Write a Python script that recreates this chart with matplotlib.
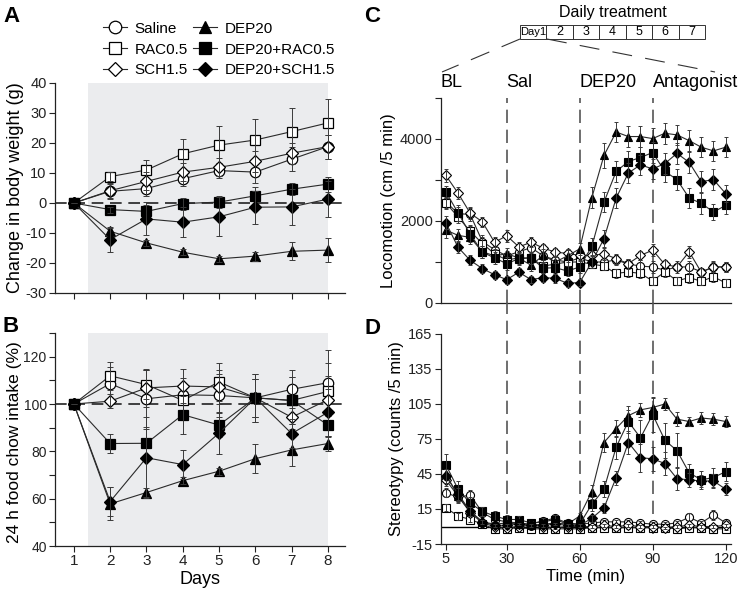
import numpy as np
import matplotlib
matplotlib.use("Agg")
import matplotlib.pyplot as plt
from matplotlib.lines import Line2D
from matplotlib.patches import Rectangle

plt.rcParams['font.family'] = ['Liberation Sans', 'DejaVu Sans']
plt.rcParams['axes.unicode_minus'] = False

# ---------------- data ----------------
groups = ["Saline", "RAC0.5", "SCH1.5", "DEP20", "DEP20+RAC0.5", "DEP20+SCH1.5"]
markers = ["o", "s", "D", "^", "s", "D"]
filled = [False, False, False, True, True, True]

days = [1, 2, 3, 4, 5, 6, 7, 8]

bw_saline = [0, 3.9, 4.8, 8.1, 10.8, 10.3, 14.6, 18.8]
bw_rac = [0, 8.8, 11.0, 16.4, 19.3, 21.0, 23.8, 26.7]
bw_sch = [0, 4.1, 7.2, 10.3, 11.9, 13.9, 16.6, 18.8]
bw_dep = [0, -9.4, -13.3, -16.4, -18.6, -17.7, -16.1, -15.7]
bw_deprac = [0, -2.2, -2.8, -0.2, 0.3, 2.4, 4.6, 6.3]
bw_depsch = [0, -12.2, -5.3, -6.4, -4.6, -1.4, -1.3, 1.3]

bw_saline_err = [0, 2.5, 2.5, 2.5, 2.5, 3.5, 4, 4]
bw_rac_err = [0, 1.5, 3.5, 5, 6.5, 7, 8, 8]
bw_sch_err = [0, 2.5, 3, 3, 3, 3.5, 3.5, 4]
bw_dep_err = [0, 1.5, 1, 1, 1, 1.5, 3, 4]
bw_deprac_err = [0, 1, 2, 2, 2, 3, 2, 2.5]
bw_depsch_err = [0, 4, 5.5, 5, 6.5, 5.5, 6, 6]

fi_saline = [100, 108.6, 102.2, 103.9, 103.6, 102.6, 106.2, 109.0]
fi_rac = [100, 111.9, 108.2, 101.5, 109.3, 102.6, 101.5, 105.3]
fi_sch = [100, 101.2, 106.8, 107.6, 107.2, 102.6, 94.4, 101.8]
fi_dep = [100, 57.8, 62.6, 67.6, 71.6, 76.9, 80.6, 83.3]
fi_deprac = [100, 83.3, 83.4, 95.5, 91.1, 102.6, 101.5, 91.1]
fi_depsch = [100, 58.8, 77.3, 74.4, 87.7, 102.6, 87.5, 96.5]

fi_saline_err = [0, 7, 12, 7, 9, 8, 8, 14]
fi_rac_err = [0, 6, 6, 5, 8, 8, 10, 12]
fi_sch_err = [0, 3, 8, 7, 7, 8, 5, 10]
fi_dep_err = [0, 7, 2, 1.5, 1.5, 6, 7, 3]
fi_deprac_err = [0, 4, 6, 8, 5, 10, 10, 5]
fi_depsch_err = [0, 6, 17, 6, 9, 10, 6, 10]

time_min = [5, 10, 15, 20, 25, 30, 35, 40, 45, 50, 55, 60,
            65, 70, 75, 80, 85, 90, 95, 100, 105, 110, 115, 120]

loc_saline = [2470, 2180, 2160, 1500, 1300, 1150, 1250, 1350, 1150, 1050, 1000, 1100,
              1000, 1000, 1050, 950, 900, 880, 800, 880, 880, 760, 880, 880]
loc_rac = [2440, 2100, 1750, 1450, 1200, 1050, 1100, 1100, 900, 950, 1000, 1000,
           950, 900, 720, 760, 720, 540, 760, 540, 620, 530, 640, 490]
loc_sch = [3110, 2680, 2190, 1980, 1480, 1640, 1370, 1480, 1340, 1240, 1210, 1160,
           1160, 1200, 1080, 960, 1160, 1290, 940, 880, 1250, 750, 880, 880]
loc_dep = [1780, 1650, 1600, 1250, 1150, 1200, 1100, 920, 1160, 1000, 1150, 1320,
           2570, 3600, 4170, 4060, 4060, 4010, 4140, 4100, 3960, 3800, 3710, 3800]
loc_deprac = [2710, 2200, 1680, 1240, 1100, 960, 1080, 1100, 850, 860, 780, 880,
              1380, 2460, 3210, 3450, 3550, 3670, 3210, 3010, 2560, 2430, 2220, 2380]
loc_depsch = [1960, 1360, 1040, 840, 690, 570, 750, 570, 620, 600, 480, 500,
              1000, 1570, 2560, 3170, 3370, 3270, 3400, 3650, 3430, 2960, 3010, 2670]

loc_saline_err = [150, 150, 150, 150, 120, 120, 120, 120, 100, 100, 100, 100,
                  120, 120, 120, 120, 150, 150, 120, 150, 150, 100, 150, 120]
loc_rac_err = [150, 150, 150, 150, 120, 120, 100, 100, 100, 100, 100, 120,
               100, 100, 100, 120, 120, 100, 120, 100, 120, 100, 120, 100]
loc_sch_err = [150, 150, 150, 120, 120, 150, 120, 120, 100, 100, 100, 120,
               120, 150, 120, 120, 120, 150, 120, 100, 150, 100, 120, 120]
loc_dep_err = [200, 150, 150, 150, 150, 150, 150, 150, 150, 120, 150, 150,
               250, 300, 250, 250, 250, 250, 250, 250, 250, 250, 250, 250]
loc_deprac_err = [150, 200, 200, 150, 150, 150, 150, 150, 120, 120, 120, 150,
                  200, 250, 250, 250, 250, 250, 250, 250, 250, 250, 200, 200]
loc_depsch_err = [150, 150, 120, 100, 100, 100, 100, 80, 100, 100, 80, 80,
                  150, 200, 250, 250, 250, 250, 250, 250, 250, 250, 250, 200]

st_saline = [29, 25, 27, 12, 6, 4, 3, 2, 5, 7, 3, 2,
             3, 4, 4, 4, 3, 2, 2, 3, 8, 3, 10, 3]
st_rac = [16, 9, 6, 2, -2, -2, -1, -2, -2, -2, -2, -2,
          -1, -1, -1, -1, -1, -1, -1, -2, -1, -1, -2, -2]
st_sch = [40, 26, 12, 3, 0, -1, 0, 1, 0, -1, 0, 0,
          0, 1, 0, 1, 0, 0, -1, 0, 1, 0, 0, 1]
st_dep = [45, 26, 13, 4, 2, 3, 2, 1, 2, 3, 2, 9,
          30, 72, 84, 95, 100, 102, 105, 92, 90, 93, 92, 90]
st_deprac = [53, 32, 20, 13, 9, 6, 6, 3, 4, 6, 2, 2,
             19, 32, 68, 90, 76, 96, 74, 65, 46, 40, 42, 47]
st_depsch = [43, 28, 13, 4, 1, 1, 2, 1, 1, 2, 1, 1,
             7, 16, 42, 72, 59, 58, 54, 41, 40, 39, 39, 32]

st_saline_err = [4, 4, 4, 3, 2, 2, 2, 2, 2, 3, 2, 2,
                 2, 2, 2, 2, 2, 2, 2, 2, 4, 2, 4, 2]
st_rac_err = [3, 3, 2, 2, 1, 1, 1, 1, 1, 1, 1, 1,
              1, 1, 1, 1, 1, 1, 1, 1, 1, 1, 1, 1]
st_sch_err = [5, 4, 3, 2, 1, 1, 1, 1, 1, 1, 1, 1,
              1, 1, 1, 1, 1, 1, 1, 1, 1, 1, 1, 1]
st_dep_err = [5, 6, 4, 2, 2, 2, 2, 2, 2, 2, 2, 3,
              6, 8, 7, 8, 6, 8, 5, 6, 4, 5, 5, 5]
st_deprac_err = [9, 7, 5, 4, 4, 4, 3, 2, 3, 4, 2, 2,
                 6, 7, 10, 10, 15, 15, 15, 15, 8, 8, 8, 8]
st_depsch_err = [6, 5, 4, 2, 1, 1, 1, 1, 1, 1, 1, 1,
                 3, 4, 6, 10, 12, 10, 10, 10, 6, 5, 6, 5]

bw_vals = [bw_saline, bw_rac, bw_sch, bw_dep, bw_deprac, bw_depsch]
bw_errs = [bw_saline_err, bw_rac_err, bw_sch_err, bw_dep_err, bw_deprac_err, bw_depsch_err]
fi_vals = [fi_saline, fi_rac, fi_sch, fi_dep, fi_deprac, fi_depsch]
fi_errs = [fi_saline_err, fi_rac_err, fi_sch_err, fi_dep_err, fi_deprac_err, fi_depsch_err]
loc_vals = [loc_saline, loc_rac, loc_sch, loc_dep, loc_deprac, loc_depsch]
loc_errs = [loc_saline_err, loc_rac_err, loc_sch_err, loc_dep_err, loc_deprac_err, loc_depsch_err]
st_vals = [st_saline, st_rac, st_sch, st_dep, st_deprac, st_depsch]
st_errs = [st_saline_err, st_rac_err, st_sch_err, st_dep_err, st_deprac_err, st_depsch_err]

treat_days = ["Day1", "2", "3", "4", "5", "6", "7"]
phase_labels = ["BL", "Sal", "DEP20", "Antagonist"]
phase_starts = [3, 30, 60, 90]

# ---------------- figure ----------------
W, H = 740, 591
fig = plt.figure(figsize=(W / 100, H / 100), dpi=100)

def ax_px(l, t, r, b):
    return fig.add_axes([l / W, 1 - b / H, (r - l) / W, (b - t) / H])

axA = ax_px(55, 83, 345, 293)
axB = ax_px(55, 333, 345, 546)
axC = ax_px(441, 98, 731, 303)
axD = ax_px(441, 334, 731, 544)

LINE_C = "#2a2a2a"
ERR_C = "#3a3a3a"
SHADE = "#ebecee"

def style(ax):
    for s in ["top", "right"]:
        ax.spines[s].set_visible(False)
    for s in ["left", "bottom"]:
        ax.spines[s].set_linewidth(0.9)
        ax.spines[s].set_color("#222222")
    ax.tick_params(direction="out", length=4, width=0.8, colors="#222222", pad=2)

def draw_series(ax, x, vals, errs, ms, mew, cap):
    for i in range(len(groups)):
        mfc = "black" if filled[i] else "white"
        m = markers[i]
        size = ms * (0.8 if m == "D" else 1.0)
        ax.errorbar(x, vals[i], yerr=errs[i], fmt="none", ecolor=ERR_C,
                    elinewidth=0.7, capsize=cap, capthick=0.7, zorder=4 + i)
        ax.plot(x, vals[i], color=LINE_C, lw=0.8, marker=m, ms=size,
                mfc=mfc, mec="black", mew=mew, zorder=3 + i)

# Panel A
style(axA)
axA.axvspan(1.4, 8.0, color=SHADE, zorder=0, lw=0)
axA.axhline(0, color="#222222", lw=1.2, dashes=(7, 4), zorder=1)
draw_series(axA, days, bw_vals, bw_errs, ms=7.5, mew=0.9, cap=2)
axA.set_xlim(0.48, 8.47)
axA.set_ylim(-30, 40)
axA.set_yticks(range(-30, 41, 10))
axA.set_xticks(days)
axA.set_xticklabels([])
axA.tick_params(axis="y", labelsize=10.5)
axA.set_ylabel("Change in body weight (g)", fontsize=13)
axA.yaxis.set_label_coords((24 - 55) / 290, 0.5)

# Panel B
style(axB)
axB.axvspan(1.4, 8.0, color=SHADE, zorder=0, lw=0)
axB.axhline(100, color="#222222", lw=1.2, dashes=(7, 4), zorder=1)
draw_series(axB, days, fi_vals, fi_errs, ms=7.5, mew=0.9, cap=2)
axB.set_xlim(0.48, 8.47)
axB.set_ylim(40, 130)
axB.set_yticks(range(40, 131, 10))
axB.set_yticklabels([str(v) if v % 20 == 0 else "" for v in range(40, 131, 10)])
axB.set_xticks(days)
axB.tick_params(axis="y", labelsize=10)
axB.tick_params(axis="x", labelsize=11)
axB.set_xlabel("Days", fontsize=13, labelpad=2)
axB.set_ylabel("24 h food chow intake (%)", fontsize=12.5)
axB.yaxis.set_label_coords((22 - 55) / 290, 0.49)

# Panel C
style(axC)
for t0 in phase_starts[1:]:
    axC.axvline(t0, color="#555555", lw=1.2, dashes=(8, 4), zorder=1)
draw_series(axC, time_min, loc_vals, loc_errs, ms=5.8, mew=0.8, cap=1.5)
axC.set_xlim(3, 122.2)
axC.set_ylim(0, 5000)
axC.set_yticks(range(0, 5001, 1000))
axC.set_yticklabels([str(v) if v % 2000 == 0 else "" for v in range(0, 5001, 1000)])
axC.set_xticks([])
axC.tick_params(labelsize=10.5)
axC.set_ylabel("Locomotion (cm /5 min)", fontsize=12, labelpad=3)
for lab, t0 in zip(phase_labels, phase_starts):
    axC.text(t0, 1.035, lab, transform=axC.get_xaxis_transform(), ha="left",
             va="bottom", fontsize=13)

# Panel D
style(axD)
for t0 in phase_starts[1:]:
    axD.axvline(t0, ymin=0.05, ymax=1.15, color="#555555", lw=1.2, dashes=(8, 4),
                zorder=1, clip_on=False)
axD.axhline(0, color="black", lw=1.0, zorder=1)
draw_series(axD, time_min, st_vals, st_errs, ms=5.8, mew=0.8, cap=1.5)
axD.set_xlim(3, 122.2)
axD.set_ylim(-15, 165)
axD.set_yticks(range(-15, 166, 30))
axD.set_xticks([5, 30, 60, 90, 120])
axD.tick_params(labelsize=10.5)
axD.set_xlabel("Time (min)", fontsize=12, labelpad=2)
axD.set_ylabel("Stereotypy (counts /5 min)", fontsize=12, labelpad=3)

# Legend
handles = []
for i, g in enumerate(groups):
    mfc = "black" if filled[i] else "white"
    size = 9 * (0.8 if markers[i] == "D" else 1.0)
    handles.append(Line2D([0], [0], color=LINE_C, lw=0.8, marker=markers[i], ms=size,
                          mfc=mfc, mec="black", mew=0.9))
fig.legend(handles, groups, loc="upper left", bbox_to_anchor=(95 / W, 1 - 14 / H),
           ncol=2, frameon=False, fontsize=11, handlelength=1.6, handletextpad=0.5,
           columnspacing=0.3, labelspacing=0.45, borderpad=0)

# Panel letters
for lab, x, y in [("A", 3, 6), ("B", 3, 316), ("C", 364, 6), ("D", 364, 318)]:
    fig.text(x / W, 1 - y / H, lab, fontsize=16, fontweight="bold", va="top", ha="left")

# Daily treatment boxes
bx0, bx1, by0, by1 = 520, 705, 25, 39
cw = (bx1 - bx0) / len(treat_days)
for i, lab in enumerate(treat_days):
    x0 = bx0 + i * cw
    fig.add_artist(Rectangle((x0 / W, 1 - by1 / H), cw / W, (by1 - by0) / H,
                             transform=fig.transFigure, fill=False, lw=0.7,
                             edgecolor="#333333"))
    fig.text((x0 + cw / 2) / W, 1 - (by0 + by1) / 2 / H, lab, fontsize=8 if i == 0 else 9,
             ha="center", va="center")
fig.text(613 / W, 1 - 12 / H, "Daily treatment", fontsize=11.5, ha="center", va="center")
fig.add_artist(Line2D([520 / W, 442 / W], [1 - 39 / H, 1 - 72 / H], transform=fig.transFigure,
                      color="#333333", lw=0.8, dashes=(18, 12)))
fig.add_artist(Line2D([547 / W, 715 / W], [1 - 39 / H, 1 - 72 / H], transform=fig.transFigure,
                      color="#333333", lw=0.8, dashes=(18, 12)))

fig.savefig("out.png", dpi=100)
